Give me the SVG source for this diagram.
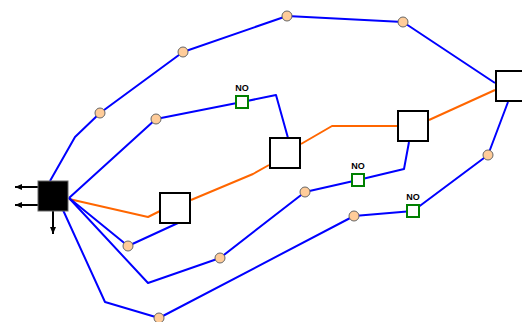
<svg xmlns="http://www.w3.org/2000/svg" width="522" height="322" viewBox="0 0 522 322">
<style>
.b{fill:none;stroke:#0000ff;stroke-width:2;stroke-linejoin:round}
.o{fill:none;stroke:#ff6600;stroke-width:2;stroke-linejoin:round}
.a{fill:none;stroke:#000;stroke-width:2}
.box{fill:#fff;stroke:#000;stroke-width:2}
.dot{fill:#ffcc99;stroke:#666;stroke-width:1}
.no{fill:#fff;stroke:#008000;stroke-width:2}
.t{font-family:"Liberation Sans",Arial,sans-serif;font-size:9px;font-weight:bold;fill:#000;text-anchor:middle}
</style>
<defs>
<marker id="ah" markerWidth="8" markerHeight="8" refX="7" refY="4" orient="auto" markerUnits="userSpaceOnUse">
<path d="M0,1 L7,4 L0,7 Z" fill="#000"/>
</marker>
</defs>
<g id="connectors">
<polyline class="o" points="69,199 148,217 160,211"/>
<polyline class="o" points="191,200 253,174 269,165"/>
<polyline class="o" points="301,144 332,126 398,126"/>
<polyline class="o" points="429,120 495,90"/>
<polyline class="b" points="50,181 75,137 100,113 183,52 287,16 403,22 495,83"/>
<polyline class="b" points="69,198 156,119 242,102 276,95 288,138"/>
<polyline class="b" points="69,198 128,246 178,223"/>
<polyline class="b" points="69,198 148,283 220,258 305,192 358,180 404,169 409,142"/>
<polyline class="b" points="63,210 105,302 159,318 354,216 413,211 488,155 508,102"/>
<line class="a" x1="38" y1="187" x2="15" y2="187" marker-end="url(#ah)"/>
<line class="a" x1="38" y1="205" x2="15" y2="205" marker-end="url(#ah)"/>
<line class="a" x1="53" y1="211" x2="53" y2="234" marker-end="url(#ah)"/>
</g>
<g id="source"><rect x="38" y="181" width="30" height="30" fill="#000" stroke="#666" stroke-width="1"/></g>
<g id="box1"><rect class="box" x="160" y="193" width="30" height="30"/></g>
<g id="box2"><rect class="box" x="270" y="138" width="30" height="30"/></g>
<g id="box3"><rect class="box" x="398" y="111" width="30" height="30"/></g>
<g id="box4"><rect class="box" x="496" y="71" width="30" height="30"/></g>
<g id="no1"><rect class="no" x="236" y="96" width="12" height="12"/><text class="t" x="242" y="91">NO</text></g>
<g id="no2"><rect class="no" x="352" y="174" width="12" height="12"/><text class="t" x="358" y="169">NO</text></g>
<g id="no3"><rect class="no" x="407" y="205" width="12" height="12"/><text class="t" x="413" y="200">NO</text></g>
<g id="dots">
<circle class="dot" cx="287" cy="16" r="5"/>
<circle class="dot" cx="403" cy="22" r="5"/>
<circle class="dot" cx="183" cy="52" r="5"/>
<circle class="dot" cx="100" cy="113" r="5"/>
<circle class="dot" cx="156" cy="119" r="5"/>
<circle class="dot" cx="128" cy="246" r="5"/>
<circle class="dot" cx="220" cy="258" r="5"/>
<circle class="dot" cx="305" cy="192" r="5"/>
<circle class="dot" cx="354" cy="216" r="5"/>
<circle class="dot" cx="488" cy="155" r="5"/>
<circle class="dot" cx="159" cy="318" r="5"/>
</g>
</svg>
